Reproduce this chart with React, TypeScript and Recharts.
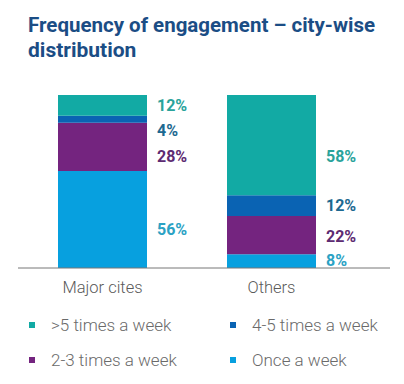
import React from 'react';
import { BarChart, Bar, XAxis, YAxis, LabelList } from 'recharts';

const categories = ['Major cites', 'Others'];
const moreThanFive = [12, 58];
const fourToFive = [4, 12];
const twoToThree = [28, 22];
const onceAWeek = [56, 8];

// label vertical nudges per category (px), to mimic hand-placed labels
const nudgeMoreThanFive = [0, 11];
const nudgeFourToFive = [11, 0];
const nudgeTwoToThree = [10, 1];
const nudgeOnce = [10, -1];

const data = categories.map((name, i) => ({
  name,
  once: onceAWeek[i],
  twoThree: twoToThree[i],
  fourFive: fourToFive[i],
  fivePlus: moreThanFive[i],
}));

const series = [
  { key: 'once', label: 'Once a week', fill: '#07a0df', text: '#2ba2c4', nudge: nudgeOnce },
  { key: 'twoThree', label: '2-3 times a week', fill: '#74247f', text: '#5d2b72', nudge: nudgeTwoToThree },
  { key: 'fourFive', label: '4-5 times a week', fill: '#0a63b3', text: '#1d6991', nudge: nudgeFourToFive },
  { key: 'fivePlus', label: '>5 times a week', fill: '#12aaa4', text: '#2aa39b', nudge: nudgeMoreThanFive },
];

const legendOrder = ['fivePlus', 'fourFive', 'twoThree', 'once'];

const FONT = 'Roboto, "Liberation Sans", sans-serif';

const makeLabel = (color: string, nudge: number[]) => (props: any) => {
  const { x, y, width, height, value, index } = props;
  return (
    <text
      x={x + width + 10}
      y={y + height / 2 + (nudge[index] || 0)}
      dominantBaseline="central"
      fill={color}
      fontSize={16}
      fontWeight={700}
      fontFamily={FONT}
    >
      {value}%
    </text>
  );
};

const CategoryTick = (props: any) => {
  const { x, y, payload } = props;
  return (
    <text
      x={x}
      y={y + 17}
      textAnchor="middle"
      dominantBaseline="central"
      fill="#5a5a5a"
      fontSize={16.5}
      fontWeight={300}
      fontFamily={FONT}
    >
      {payload.value}
    </text>
  );
};

export default function App() {
  return (
    <div style={{ position: 'relative', width: 404, height: 384, margin: -8, background: '#fff', overflow: 'hidden' }}>
      <svg width={404} height={70} style={{ position: 'absolute', left: 0, top: 0 }}>
        <text x={28} y={32} fill="#1b4d85" fontSize={21} fontWeight={700} fontFamily={FONT} textLength={347} lengthAdjust="spacingAndGlyphs">
          Frequency of engagement – city-wise
        </text>
        <text x={28} y={57} fill="#1b4d85" fontSize={21} fontWeight={700} fontFamily={FONT}>
          distribution
        </text>
      </svg>
      <div style={{ position: 'absolute', left: 0, top: 0 }}>
        <BarChart width={404} height={384} data={data} margin={{ top: 95, right: 14, left: 18, bottom: 86 }}>
          <XAxis
            dataKey="name"
            height={30}
            tickSize={0}
            tickLine={false}
            axisLine={{ stroke: '#777', strokeWidth: 1 }}
            tick={<CategoryTick />}
            padding={{ left: 0, right: 34 }}
            interval={0}
          />
          <YAxis hide domain={[0, 100]} />
          {series.map(s => (
            <Bar key={s.key} dataKey={s.key} stackId="a" fill={s.fill} barSize={89} isAnimationActive={false}>
              <LabelList dataKey={s.key} content={makeLabel(s.text, s.nudge)} />
            </Bar>
          ))}
        </BarChart>
      </div>
      <div style={{ position: 'absolute', left: 0, top: 0, width: 404, height: 384, pointerEvents: 'none' }}>
        {legendOrder.map((k, i) => {
          const s = series.find(v => v.key === k)!;
          const col = i % 2;
          const row = Math.floor(i / 2);
          const left = col === 0 ? 29 : 230;
          const top = row === 0 ? 325 : 360;
          return (
            <div key={k}>
              <div style={{ position: 'absolute', left, top: top - 3, width: 6, height: 6, background: s.fill }} />
              <div
                style={{
                  position: 'absolute',
                  left: left + 22,
                  top: top - 11,
                  lineHeight: '22px',
                  fontSize: 17,
                  fontWeight: 300,
                  fontFamily: FONT,
                  color: '#6a6a6a',
                  whiteSpace: 'nowrap',
                }}
              >
                {s.label}
              </div>
            </div>
          );
        })}
      </div>
    </div>
  );
}
